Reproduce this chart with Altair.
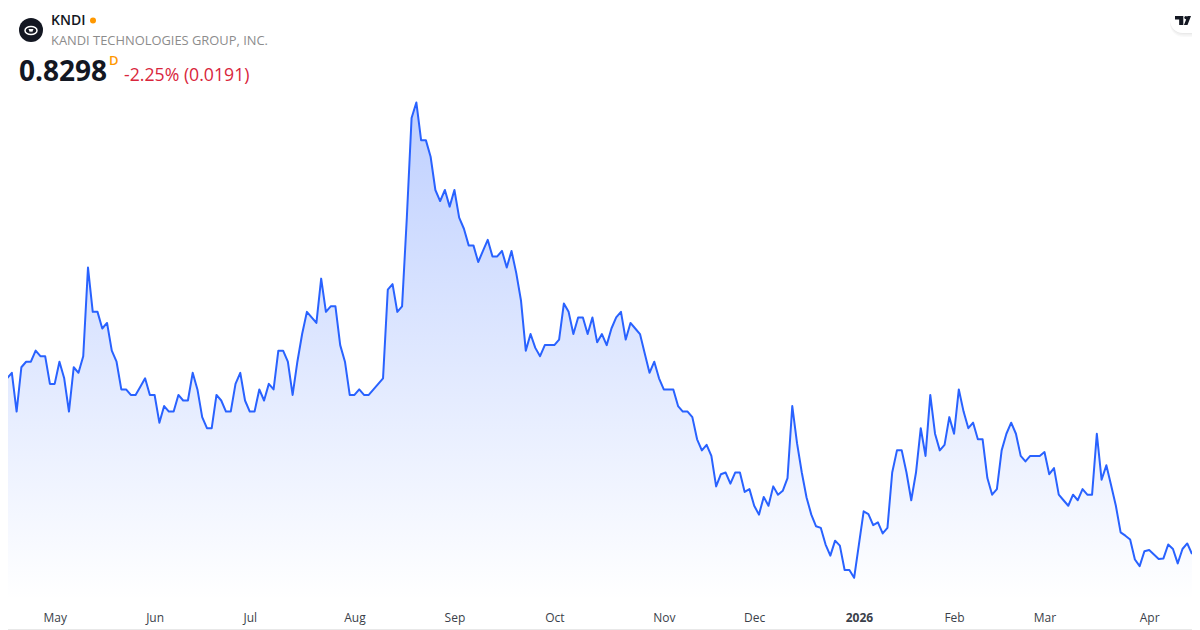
import altair as alt
import pandas as pd

prices = [
1.20,1.15,1.16,1.09,1.17,1.18,1.18,1.20,1.19,1.19,1.14,1.14,1.18,1.15,1.09,1.17,1.16,1.19,1.35,1.27,
1.27,1.24,1.25,1.20,1.18,1.13,1.13,1.12,1.12,1.135,1.15,1.12,1.12,1.07,1.10,1.09,1.09,1.12,1.11,1.11,
1.16,1.13,1.08,1.06,1.06,1.12,1.11,1.09,1.09,1.14,1.16,1.11,1.09,1.09,1.13,1.11,1.14,1.13,1.20,1.20,
1.18,1.12,1.18,1.23,1.27,1.26,1.25,1.33,1.27,1.28,1.28,1.21,1.18,1.12,1.12,1.13,1.12,1.12,1.13,1.14,
1.15,1.31,1.32,1.27,1.28,1.44,1.62,1.648,1.58,1.58,1.55,1.49,1.47,1.49,1.46,1.49,1.44,1.42,1.39,1.39,
1.36,1.38,1.40,1.37,1.37,1.38,1.35,1.38,1.34,1.29,1.20,1.23,1.205,1.19,1.21,1.21,1.21,1.22,1.285,1.27,
1.23,1.26,1.26,1.23,1.26,1.215,1.23,1.21,1.24,1.26,1.27,1.22,1.25,1.24,1.23,1.195,1.16,1.18,1.15,1.13,
1.13,1.13,1.10,1.09,1.09,1.08,1.04,1.02,1.03,1.01,0.955,0.977,0.98,0.96,0.98,0.98,0.945,0.95,0.92,0.904,
0.936,0.92,0.955,0.94,0.947,0.97,1.10,1.033,0.98,0.935,0.904,0.883,0.88,0.85,0.83,0.857,0.848,0.804,0.804,0.79,
0.85,0.91,0.905,0.885,0.89,0.87,0.88,0.98,1.02,1.02,0.98,0.93,0.98,1.06,1.01,1.12,1.05,1.02,1.03,1.08,
1.05,1.13,1.09,1.06,1.07,1.04,1.04,0.97,0.94,0.95,1.02,1.05,1.07,1.05,1.01,1.00,1.01,1.01,1.01,1.017,
0.977,0.988,0.94,0.93,0.92,0.94,0.93,0.95,0.94,0.94,1.05,0.967,0.993,0.957,0.92,0.872,0.866,0.859,0.823,0.811,
0.838,0.84,0.832,0.824,0.825,0.85,0.842,0.816,0.842,0.852,0.833,
]
month_positions = [11, 32, 52, 74, 95, 116, 139, 158, 180, 200, 219, 241]
month_labels = ["May", "Jun", "Jul", "Aug", "Sep", "Oct", "Nov", "Dec", "2026", "Feb", "Mar", "Apr"]
FONT = "Open Sans"

df = pd.DataFrame({"i": list(range(len(prices))), "price": prices, "base": 0.7499})
label_map = ",".join(f"'{p}':'{l}'" for p, l in zip(month_positions, month_labels))

x_scale = alt.Scale(domain=[1.19, 250.0], nice=False, zero=False)
y_scale = alt.Scale(domain=[0.7499, 1.8185], nice=False, zero=False)

x_enc = alt.X(
    "i:Q", scale=x_scale, title=None,
    axis=alt.Axis(
        values=month_positions, labelExpr="{" + label_map + "}[datum.value]",
        domain=False, ticks=False, grid=False, labelPadding=17, labelBaseline="middle",
        labelFont=FONT, labelFontSize=12, labelColor="#3b3f4a", labelOverlap=False, labelFlush=False,
        labelFontWeight={"condition": {"test": "datum.value == 180", "value": 700}, "value": 400},
    ),
)
y_enc = alt.Y("price:Q", scale=y_scale, axis=None)

area = alt.Chart(df).mark_area(
    color=alt.Gradient(
        gradient="linear",
        stops=[alt.GradientStop(color="rgba(41,98,255,0.3)", offset=0),
               alt.GradientStop(color="rgba(41,98,255,0)", offset=1)],
        x1=0, x2=0, y1=0, y2=1,
    )
).encode(x=x_enc, y=y_enc, y2=alt.Y2("base:Q"))
line = alt.Chart(df).mark_line(color="#2962ff", strokeWidth=2, strokeJoin="round").encode(x=x_enc, y=y_enc)


def text(s, px, py, size, color, weight=400, **kw):
    return alt.Chart(pd.DataFrame({"t": [s]})).mark_text(
        align="left", baseline="middle", font=FONT, fontSize=size, color=color, fontWeight=weight, **kw
    ).encode(text="t:N", x=alt.value(px - 8), y=alt.value(py - 8))


def dot(px, py, size, color, shape="circle", filled=True, **kw):
    return alt.Chart(pd.DataFrame({"k": [0]})).mark_point(
        shape=shape, size=size, filled=filled, color=color, opacity=1, **kw
    ).encode(x=alt.value(px - 8), y=alt.value(py - 8))


def box(x1, x2, y1, y2, color, **kw):
    return alt.Chart(pd.DataFrame({"k": [0]})).mark_rect(color=color, **kw).encode(
        x=alt.value(x1 - 8), x2=alt.value(x2 - 8), y=alt.value(y1 - 8), y2=alt.value(y2 - 8)
    )


TV_PATH = ("M-0.5 -0.28L0.02 -0.28L0.02 0.28L-0.24 0.28L-0.24 -0.06L-0.5 -0.06Z"
           "M0.08 -0.18A0.1 0.1 0 1 1 0.28 -0.18A0.1 0.1 0 1 1 0.08 -0.18Z"
           "M0.28 -0.28L0.5 -0.28L0.28 0.28L0.06 0.28Z")

layers = [
    area, line,
    # bottom border
    box(8, 1192, 629, 630, "#e8e8e8"),
    # header
    dot(31, 30, 576, "#131722"),
    dot(31, 30.5, 576, "#ffffff", shape="M-0.5 0A0.5 0.34 0 1 1 0.5 0A0.5 0.34 0 1 1 -0.5 0Z", filled=False, strokeWidth=1.5),
    dot(31, 30.5, 100, "#ffffff", shape="M-0.5 -0.3L0.5 -0.3L0.2 0.4L0 0.1L-0.2 0.4Z"),
    text("KNDI", 51, 21, 14, "#131722", 600),
    dot(93, 20.5, 36, "#ff9800"),
    text("KANDI TECHNOLOGIES GROUP, INC.", 51, 41, 12.9, "#8c8c8c"),
    text("0.8298", 19, 72.5, 28, "#131722", 700),
    text("D", 109, 61, 13, "#ff9800", 600),
    text("-2.25% (0.0191)", 124, 76, 17.7, "#d9263c"),
    # TradingView badge
    box(1170, 1204, 10, 37, "#000000", cornerRadius=13, opacity=0.025),
    box(1170, 1204, 9, 35.5, "#000000", cornerRadius=13, opacity=0.03),
    box(1170, 1204, 8, 34, "#000000", cornerRadius=13, opacity=0.03),
    box(1170, 1204, 8, 33, "#ffffff", cornerRadius=13),
    dot(1183, 20.5, 1024, "#131722", shape=TV_PATH),
]

chart = alt.layer(*layers).properties(
    width=1184, height=592,
    autosize=alt.AutoSizeParams(type="none"),
    padding={"left": 0, "top": 0, "right": 0, "bottom": 30},
    background="#ffffff",
).configure_view(strokeWidth=0)

chart.save("out.html", embed_options={"renderer": "svg", "actions": False})
